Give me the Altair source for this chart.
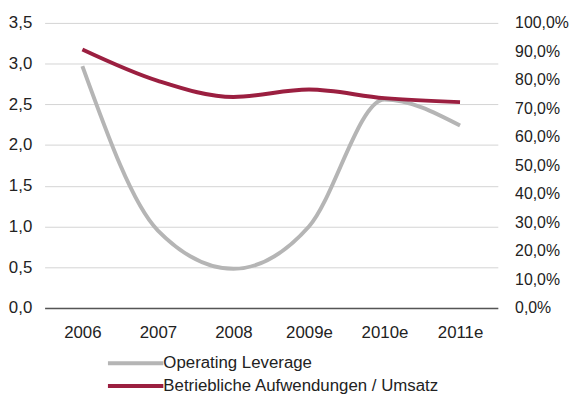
import altair as alt
import pandas as pd

years = ["2006", "2007", "2008", "2009e", "2010e", "2011e"]
operating_leverage = [2.97, 0.95, 0.48, 1.0, 2.56, 2.24]
aufwendungen_umsatz = [0.907, 0.797, 0.740, 0.766, 0.736, 0.722]
series_names = ["Operating Leverage", "Betriebliche Aufwendungen / Umsatz"]
colors = ["#b5b5b5", "#9b1f40"]
left_ticks = [0, 0.5, 1.0, 1.5, 2.0, 2.5, 3.0, 3.5]
right_ticks = [i / 10 for i in range(11)]

rows = []
for y, v in zip(years, operating_leverage):
    rows.append({"year": y, "series": series_names[0], "value": v})
for y, v in zip(years, aufwendungen_umsatz):
    rows.append({"year": y, "series": series_names[1], "value": v})
df = pd.DataFrame(rows)

FONT = "Liberation Sans"
TXT = "#222222"
FS = 17

base = alt.Chart(df).encode(
    x=alt.X(
        "year:N",
        sort=years,
        scale=alt.Scale(type="point", padding=0.5),
        axis=alt.Axis(
            title=None, labelAngle=0, ticks=False, domain=True,
            domainColor="#555555", domainWidth=1.5, labelPadding=17,
            labelFont=FONT, labelFontSize=FS, labelColor=TXT, grid=False,
        ),
    ),
    color=alt.Color(
        "series:N",
        scale=alt.Scale(domain=series_names, range=colors),
        legend=alt.Legend(
            title=None, orient="none", legendX=78, legendY=330,
            symbolType="M-2.333,0H2.333", symbolStrokeWidth=4, symbolSize=576,
            labelFont=FONT, labelFontSize=FS, labelColor=TXT, labelLimit=500,
            rowPadding=1, labelOffset=14, direction="vertical", padding=0,
        ),
    ),
)

gray = base.transform_filter(alt.datum.series == series_names[0]).mark_line(
    interpolate="monotone", strokeWidth=4
).encode(
    y=alt.Y(
        "value:Q",
        scale=alt.Scale(domain=[0, 3.5], nice=False),
        axis=alt.Axis(
            title=None, values=left_ticks, orient="left", domain=False, ticks=False,
            labelPadding=13, labelFont=FONT, labelFontSize=FS, labelColor=TXT,
            grid=True, gridColor="#d3d3d3", gridWidth=1,
            labelExpr="replace(format(datum.value, '.1f'), '.', ',')",
        ),
    )
)

red = base.transform_filter(alt.datum.series == series_names[1]).mark_line(
    interpolate="monotone", strokeWidth=4
).encode(
    y=alt.Y(
        "value:Q",
        scale=alt.Scale(domain=[0, 1], nice=False),
        axis=alt.Axis(
            title=None, values=right_ticks, orient="right", domain=False, ticks=False,
            labelPadding=17, labelFont=FONT, labelFontSize=16, labelColor=TXT,
            grid=False,
            labelExpr="replace(format(datum.value, '.1%'), '.', ',')",
        ),
    )
)

chart = alt.layer(gray, red).resolve_scale(y="independent").properties(
    width=458, height=288,
    autosize=alt.AutoSizeParams(type="none"),
    padding={"left": 37, "top": 13, "right": 76, "bottom": 90},
).configure_view(stroke=None)

chart.save("out.html", embed_options={"renderer": "svg", "actions": False})
